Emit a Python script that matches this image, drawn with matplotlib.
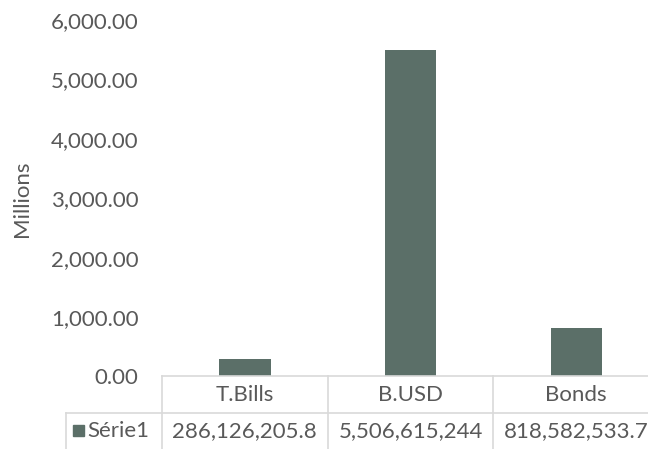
import matplotlib.pyplot as plt
from matplotlib.patches import Rectangle
from matplotlib.transforms import blended_transform_factory

categories = ['T.Bills', 'B.USD', 'Bonds']
values = [286126205.8, 5506615244, 818582533.7]
value_labels = ['286,126,205.8', '5,506,615,244', '818,582,533.7']
series_name = 'Série1'
yticks = [0, 1000, 2000, 3000, 4000, 5000, 6000]

bar_color = '#5b6f68'
text_color = '#595959'
line_color = '#d9d9d9'
fsize = 16

plt.rcParams['font.family'] = ['Lato', 'DejaVu Sans']

fig = plt.figure(figsize=(6.48, 4.49), dpi=100)
ax = fig.add_axes([0.25, 0.1615, 0.767, 0.7935])

# values shown in millions
ax.bar(range(len(categories)), [v / 1e6 for v in values], width=0.31, color=bar_color)
ax.set_xlim(-0.5, len(categories) - 0.5)
ax.set_ylim(0, 6000)
ax.set_yticks(yticks)
ax.set_yticklabels([f'{t:,.2f}' for t in yticks])
ax.tick_params(axis='y', length=0, pad=17, labelsize=fsize, labelcolor=text_color)
ax.set_xticks([])
for s in ['top', 'right', 'left']:
    ax.spines[s].set_visible(False)
ax.spines['bottom'].set_color(line_color)
ax.spines['bottom'].set_linewidth(1.2)

ax.set_ylabel('Millions', fontsize=fsize, color=text_color)
ax.yaxis.set_label_coords(-0.262, 0.5)

# data table under the plot
tr = blended_transform_factory(ax.transData, ax.transAxes)
row1 = -0.1024
bottom = -0.21
kw = dict(color=line_color, lw=1.2, clip_on=False)
for i in range(len(categories)):
    ax.plot([i - 0.5, i - 0.5], [0, bottom], transform=tr, **kw)
    ax.text(i, row1 / 2, categories[i], transform=tr, ha='center', va='center',
            fontsize=fsize, color=text_color)
    ax.text(i, -0.152, value_labels[i], transform=tr, ha='center', va='center',
            fontsize=fsize, color=text_color)
ax.plot([-0.193, 1.1], [row1, row1], transform=ax.transAxes, **kw)
ax.plot([-0.193, -0.193], [row1, bottom], transform=ax.transAxes, **kw)

ax.add_patch(Rectangle((-0.179, -0.168), 0.022, 0.031, transform=ax.transAxes,
                       color=bar_color, clip_on=False))
ax.text(-0.151, -0.152, series_name, transform=ax.transAxes, ha='left', va='center',
        fontsize=fsize, color=text_color)

fig.savefig('out.png', dpi=100)
